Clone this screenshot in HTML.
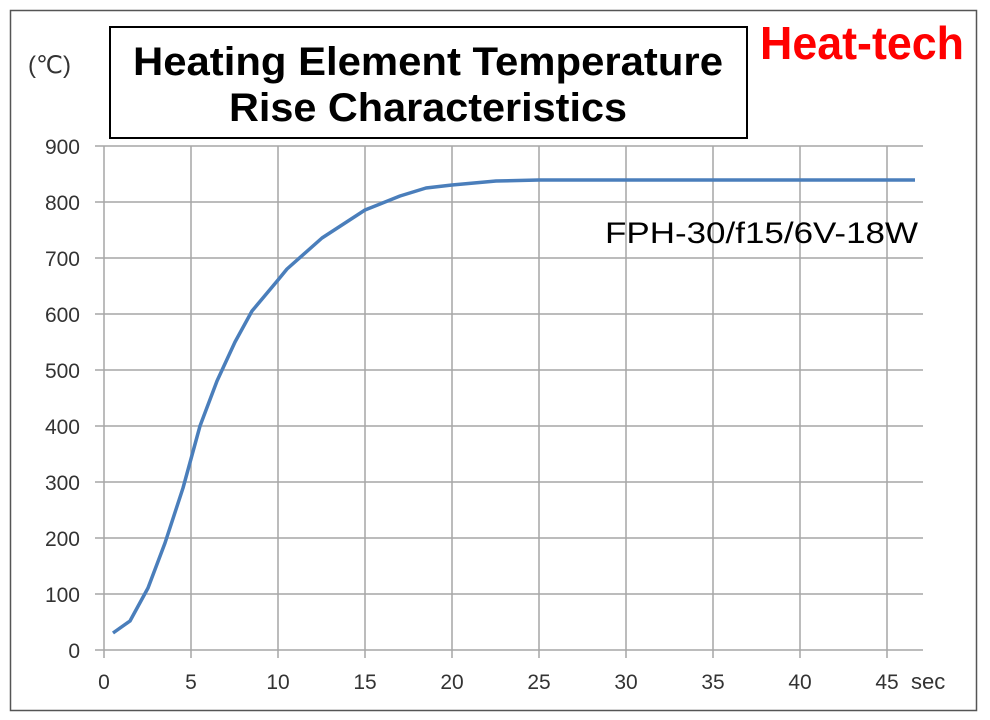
<!DOCTYPE html>
<html><head><meta charset="utf-8"><style>
html,body{margin:0;padding:0;background:#fff;}
body{width:990px;height:720px;position:relative;overflow:hidden;font-family:"Liberation Sans",sans-serif;}
</style></head><body>
<svg width="990" height="720" viewBox="0 0 990 720" style="position:absolute;left:0;top:0">
<rect x="10.5" y="10.5" width="966" height="700" fill="#fff" stroke="#555" stroke-width="1.5"/>
<g stroke="#a6a6a6" stroke-width="1.5">
<line x1="95" y1="146" x2="923" y2="146"/><line x1="95" y1="202" x2="923" y2="202"/>
<line x1="95" y1="258" x2="923" y2="258"/><line x1="95" y1="314" x2="923" y2="314"/>
<line x1="95" y1="370" x2="923" y2="370"/><line x1="95" y1="426" x2="923" y2="426"/>
<line x1="95" y1="482" x2="923" y2="482"/><line x1="95" y1="538" x2="923" y2="538"/>
<line x1="95" y1="594" x2="923" y2="594"/><line x1="95" y1="650" x2="923" y2="650"/>
<line x1="104" y1="146" x2="104" y2="658"/><line x1="191" y1="146" x2="191" y2="658"/>
<line x1="278" y1="146" x2="278" y2="658"/><line x1="365" y1="146" x2="365" y2="658"/>
<line x1="452" y1="146" x2="452" y2="658"/><line x1="539" y1="146" x2="539" y2="658"/>
<line x1="626" y1="146" x2="626" y2="658"/><line x1="713" y1="146" x2="713" y2="658"/>
<line x1="800" y1="146" x2="800" y2="658"/><line x1="887" y1="146" x2="887" y2="658"/>
</g>
<g font-size="21" fill="#333" text-anchor="end" font-family="Liberation Sans">
<text x="80" y="154">900</text><text x="80" y="210">800</text><text x="80" y="266">700</text>
<text x="80" y="322">600</text><text x="80" y="378">500</text><text x="80" y="434">400</text>
<text x="80" y="490">300</text><text x="80" y="546">200</text><text x="80" y="602">100</text>
<text x="80" y="658">0</text>
</g>
<g font-size="21" fill="#333" text-anchor="middle">
<text x="104" y="689">0</text><text x="191" y="689">5</text><text x="278" y="689">10</text>
<text x="365" y="689">15</text><text x="452" y="689">20</text><text x="539" y="689">25</text>
<text x="626" y="689">30</text><text x="713" y="689">35</text><text x="800" y="689">40</text>
<text x="887" y="689">45</text>
</g>
<text x="911" y="689" font-size="22" fill="#333">sec</text>
<text x="28" y="73" font-size="24" fill="#333">(℃)</text>
<polyline fill="none" stroke="#4a7ebb" stroke-width="3.5" stroke-linejoin="round"
points="113,633 130,621 148,588 165,543 183,488 200,426 217,381 235,342 252,311 278,280 287,269 322,238 365,210 400,196 426,188 452,185 496,181 539,180 626,180 915,180"/>
<rect x="110" y="27" width="637" height="111" fill="#fff" stroke="#000" stroke-width="2"/>
<text x="428" y="75" font-size="40" font-weight="bold" text-anchor="middle" fill="#000" textLength="590" lengthAdjust="spacingAndGlyphs">Heating Element Temperature</text>
<text x="428" y="121" font-size="40" font-weight="bold" text-anchor="middle" fill="#000" textLength="398" lengthAdjust="spacingAndGlyphs">Rise Characteristics</text>
<text x="862" y="59" font-size="46" font-weight="bold" text-anchor="middle" fill="#ff0000" textLength="204" lengthAdjust="spacingAndGlyphs">Heat-tech</text>
<text x="918" y="243" font-size="30" text-anchor="end" fill="#000" textLength="313" lengthAdjust="spacingAndGlyphs">FPH-30/f15/6V-18W</text>
</svg>
</body></html>
